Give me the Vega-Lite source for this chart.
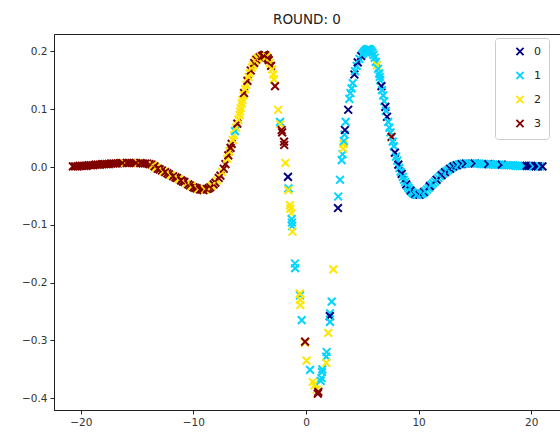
{
"$schema": "https://vega.github.io/schema/vega-lite/v6.json",
"width": 506, "height": 376,
"autosize": "none",
"padding": {"left": 54, "top": 34, "right": 0, "bottom": 26},
"title": {"text": "ROUND: 0", "fontSize": 13.5, "fontWeight": "normal", "font": "DejaVu Sans", "color": "#222", "offset": 8, "anchor": "middle"},
"data": {"values": [
{"x":-20.7,"y":0.001,"c":"3"},{"x":-20.5,"y":0.001,"c":"3"},{"x":-20.3,"y":0.001,"c":"3"},{"x":-20.1,"y":0.002,"c":"3"},{"x":-19.9,"y":0.002,"c":"3"},{"x":-19.7,"y":0.002,"c":"3"},{"x":-19.5,"y":0.002,"c":"3"},{"x":-19.3,"y":0.003,"c":"3"},{"x":-19.1,"y":0.003,"c":"3"},{"x":-18.9,"y":0.003,"c":"3"},{"x":-18.7,"y":0.004,"c":"3"},{"x":-18.5,"y":0.004,"c":"3"},{"x":-18.3,"y":0.004,"c":"3"},{"x":-18.1,"y":0.005,"c":"3"},{"x":-17.9,"y":0.005,"c":"3"},{"x":-17.7,"y":0.005,"c":"3"},{"x":-17.5,"y":0.005,"c":"3"},{"x":-17.3,"y":0.006,"c":"3"},{"x":-17.1,"y":0.006,"c":"3"},{"x":-16.9,"y":0.006,"c":"3"},{"x":-16.7,"y":0.006,"c":"3"},{"x":-16.5,"y":0.007,"c":"3"},{"x":-16.1,"y":0.007,"c":"2"},{"x":-16.3,"y":0.007,"c":"3"},{"x":-15.9,"y":0.007,"c":"3"},{"x":-15.7,"y":0.007,"c":"3"},{"x":-15.5,"y":0.007,"c":"3"},{"x":-15.3,"y":0.007,"c":"3"},{"x":-14.9,"y":0.007,"c":"2"},{"x":-15.1,"y":0.007,"c":"3"},{"x":-14.7,"y":0.007,"c":"3"},{"x":-14.5,"y":0.006,"c":"3"},{"x":-14.3,"y":0.006,"c":"3"},{"x":-14.1,"y":0.006,"c":"3"},{"x":-13.9,"y":0.005,"c":"3"},{"x":-13.7,"y":0.004,"c":"3"},
{"x":-13.6,"y":0.003,"c":"2"},{"x":-13.45,"y":0.001,"c":"3"},{"x":-13.3,"y":-0.001,"c":"2"},{"x":-13.15,"y":-0.003,"c":"3"},{"x":-13.0,"y":-0.004,"c":"3"},{"x":-12.8,"y":-0.006,"c":"3"},{"x":-12.65,"y":-0.008,"c":"2"},{"x":-12.5,"y":-0.009,"c":"3"},{"x":-12.3,"y":-0.011,"c":"3"},{"x":-12.15,"y":-0.013,"c":"3"},{"x":-12.0,"y":-0.014,"c":"2"},{"x":-11.8,"y":-0.016,"c":"3"},{"x":-11.6,"y":-0.018,"c":"3"},{"x":-11.45,"y":-0.019,"c":"3"},{"x":-11.3,"y":-0.021,"c":"2"},{"x":-11.1,"y":-0.023,"c":"3"},{"x":-10.95,"y":-0.025,"c":"3"},{"x":-10.8,"y":-0.026,"c":"3"},{"x":-10.6,"y":-0.029,"c":"2"},{"x":-10.45,"y":-0.030,"c":"3"},{"x":-10.3,"y":-0.032,"c":"3"},{"x":-10.15,"y":-0.033,"c":"2"},{"x":-10.0,"y":-0.035,"c":"3"},{"x":-9.85,"y":-0.036,"c":"3"},{"x":-9.7,"y":-0.037,"c":"3"},{"x":-9.55,"y":-0.038,"c":"2"},{"x":-9.4,"y":-0.039,"c":"3"},{"x":-9.25,"y":-0.039,"c":"3"},{"x":-9.1,"y":-0.040,"c":"3"},{"x":-8.95,"y":-0.039,"c":"2"},{"x":-8.8,"y":-0.038,"c":"3"},{"x":-8.65,"y":-0.037,"c":"3"},{"x":-8.5,"y":-0.035,"c":"3"},{"x":-8.35,"y":-0.033,"c":"2"},{"x":-8.2,"y":-0.030,"c":"3"},{"x":-8.05,"y":-0.027,"c":"3"},{"x":-7.9,"y":-0.023,"c":"2"},{"x":-7.75,"y":-0.019,"c":"3"},{"x":-7.6,"y":-0.015,"c":"3"},{"x":-7.45,"y":-0.009,"c":"2"},{"x":-7.3,"y":-0.003,"c":"3"},{"x":-7.15,"y":0.005,"c":"3"},{"x":-7.0,"y":0.014,"c":"2"},
{"x":-6.9,"y":0.020,"c":"3"},{"x":-6.8,"y":0.027,"c":"2"},{"x":-6.7,"y":0.033,"c":"3"},{"x":-6.6,"y":0.040,"c":"3"},{"x":-6.5,"y":0.047,"c":"2"},{"x":-6.4,"y":0.055,"c":"2"},{"x":-6.3,"y":0.062,"c":"1"},{"x":-6.2,"y":0.068,"c":"2"},{"x":-6.1,"y":0.075,"c":"3"},{"x":-6.0,"y":0.082,"c":"2"},{"x":-5.9,"y":0.090,"c":"2"},{"x":-5.85,"y":0.096,"c":"2"},{"x":-5.8,"y":0.102,"c":"2"},{"x":-5.7,"y":0.110,"c":"2"},{"x":-5.65,"y":0.116,"c":"2"},{"x":-5.55,"y":0.124,"c":"2"},{"x":-5.5,"y":0.128,"c":"3"},{"x":-5.4,"y":0.135,"c":"2"},{"x":-5.3,"y":0.142,"c":"2"},{"x":-5.2,"y":0.149,"c":"3"},{"x":-5.1,"y":0.156,"c":"2"},{"x":-5.0,"y":0.162,"c":"2"},{"x":-4.9,"y":0.167,"c":"3"},{"x":-4.8,"y":0.172,"c":"2"},{"x":-4.7,"y":0.176,"c":"2"},{"x":-4.6,"y":0.180,"c":"3"},{"x":-4.5,"y":0.184,"c":"2"},{"x":-4.4,"y":0.186,"c":"3"},{"x":-4.3,"y":0.188,"c":"2"},{"x":-4.2,"y":0.189,"c":"2"},{"x":-4.1,"y":0.190,"c":"3"},{"x":-4.0,"y":0.191,"c":"2"},{"x":-3.9,"y":0.192,"c":"3"},{"x":-3.8,"y":0.193,"c":"3"},{"x":-3.7,"y":0.194,"c":"3"},{"x":-3.6,"y":0.193,"c":"3"},{"x":-3.5,"y":0.191,"c":"2"},{"x":-3.4,"y":0.188,"c":"3"},{"x":-3.3,"y":0.185,"c":"3"},{"x":-3.2,"y":0.180,"c":"2"},{"x":-3.1,"y":0.175,"c":"3"},{"x":-3.0,"y":0.169,"c":"2"},{"x":-2.9,"y":0.160,"c":"2"},{"x":-2.85,"y":0.152,"c":"2"},{"x":-2.75,"y":0.140,"c":"3"},
{"x":-2.47,"y":0.099,"c":"2"},{"x":-2.3,"y":0.078,"c":"1"},{"x":-2.28,"y":0.074,"c":"2"},{"x":-2.16,"y":0.064,"c":"3"},{"x":-2.12,"y":0.060,"c":"3"},{"x":-1.95,"y":0.044,"c":"3"},{"x":-1.93,"y":0.038,"c":"3"},{"x":-1.83,"y":0.007,"c":"2"},{"x":-1.6,"y":-0.017,"c":"0"},{"x":-1.55,"y":-0.037,"c":"1"},{"x":-1.57,"y":-0.040,"c":"2"},{"x":-1.42,"y":-0.066,"c":"2"},{"x":-1.40,"y":-0.072,"c":"2"},{"x":-1.3,"y":-0.080,"c":"2"},{"x":-1.27,"y":-0.090,"c":"1"},{"x":-1.25,"y":-0.096,"c":"1"},{"x":-1.24,"y":-0.102,"c":"1"},{"x":-1.2,"y":-0.112,"c":"2"},{"x":-0.98,"y":-0.167,"c":"1"},{"x":-0.96,"y":-0.175,"c":"1"},{"x":-0.53,"y":-0.222,"c":"1"},{"x":-0.55,"y":-0.219,"c":"2"},{"x":-0.5,"y":-0.230,"c":"2"},{"x":-0.5,"y":-0.239,"c":"2"},{"x":-0.38,"y":-0.265,"c":"1"},{"x":-0.09,"y":-0.304,"c":"2"},{"x":-0.08,"y":-0.302,"c":"3"},{"x":0.05,"y":-0.335,"c":"2"},{"x":0.36,"y":-0.351,"c":"1"},{"x":0.6,"y":-0.372,"c":"2"},{"x":0.75,"y":-0.378,"c":"2"},{"x":0.85,"y":-0.375,"c":"2"},{"x":0.95,"y":-0.385,"c":"2"},{"x":1.05,"y":-0.392,"c":"3"},{"x":1.1,"y":-0.389,"c":"3"},{"x":1.3,"y":-0.370,"c":"1"},{"x":1.38,"y":-0.365,"c":"1"},{"x":1.42,"y":-0.355,"c":"1"},{"x":1.45,"y":-0.350,"c":"1"},{"x":1.84,"y":-0.320,"c":"1"},{"x":1.80,"y":-0.328,"c":"1"},{"x":1.80,"y":-0.339,"c":"2"},{"x":1.98,"y":-0.287,"c":"2"},{"x":2.13,"y":-0.253,"c":"1"},{"x":2.12,"y":-0.258,"c":"0"},{"x":2.13,"y":-0.268,"c":"1"},{"x":2.28,"y":-0.233,"c":"1"},{"x":2.43,"y":-0.177,"c":"2"},{"x":2.84,"y":-0.071,"c":"0"},{"x":2.86,"y":-0.051,"c":"1"},{"x":3.02,"y":-0.022,"c":"1"},{"x":3.17,"y":0.012,"c":"1"},
{"x":3.25,"y":0.022,"c":"1"},{"x":3.3,"y":0.032,"c":"2"},{"x":3.33,"y":0.040,"c":"2"},{"x":3.36,"y":0.045,"c":"1"},{"x":3.42,"y":0.056,"c":"1"},{"x":3.46,"y":0.064,"c":"0"},{"x":3.52,"y":0.078,"c":"1"},{"x":3.75,"y":0.099,"c":"0"},{"x":3.85,"y":0.118,"c":"1"},{"x":3.95,"y":0.128,"c":"1"},{"x":4.05,"y":0.136,"c":"1"},{"x":4.15,"y":0.145,"c":"1"},{"x":4.3,"y":0.160,"c":"0"},{"x":4.35,"y":0.166,"c":"1"},{"x":4.5,"y":0.175,"c":"1"},{"x":4.6,"y":0.181,"c":"0"},{"x":4.75,"y":0.187,"c":"1"},{"x":4.9,"y":0.192,"c":"0"},{"x":5.0,"y":0.195,"c":"1"},{"x":5.1,"y":0.198,"c":"1"},{"x":5.2,"y":0.200,"c":"1"},{"x":5.3,"y":0.202,"c":"1"},{"x":5.4,"y":0.203,"c":"1"},{"x":5.5,"y":0.204,"c":"1"},{"x":5.6,"y":0.204,"c":"1"},{"x":5.7,"y":0.203,"c":"1"},{"x":5.8,"y":0.201,"c":"1"},{"x":5.9,"y":0.198,"c":"1"},{"x":6.0,"y":0.194,"c":"1"},{"x":6.1,"y":0.189,"c":"1"},{"x":6.2,"y":0.182,"c":"1"},{"x":6.3,"y":0.176,"c":"2"},{"x":6.4,"y":0.170,"c":"1"},{"x":6.5,"y":0.162,"c":"1"},{"x":6.55,"y":0.156,"c":"1"},{"x":6.6,"y":0.150,"c":"1"},{"x":6.7,"y":0.140,"c":"0"},{"x":6.75,"y":0.133,"c":"1"},{"x":6.85,"y":0.124,"c":"1"},{"x":6.95,"y":0.114,"c":"1"},{"x":7.05,"y":0.104,"c":"0"},{"x":7.1,"y":0.097,"c":"1"},{"x":7.2,"y":0.087,"c":"0"},{"x":7.3,"y":0.078,"c":"1"},{"x":7.4,"y":0.068,"c":"1"},{"x":7.5,"y":0.060,"c":"1"},{"x":7.6,"y":0.052,"c":"3"},{"x":7.7,"y":0.044,"c":"1"},{"x":7.8,"y":0.036,"c":"1"},{"x":7.9,"y":0.025,"c":"0"},{"x":8.0,"y":0.018,"c":"1"},{"x":8.1,"y":0.011,"c":"1"},{"x":8.2,"y":0.004,"c":"0"},{"x":8.3,"y":-0.002,"c":"1"},{"x":8.4,"y":-0.008,"c":"1"},{"x":8.5,"y":-0.012,"c":"0"},{"x":8.6,"y":-0.017,"c":"1"},{"x":8.7,"y":-0.022,"c":"1"},{"x":8.8,"y":-0.026,"c":"1"},{"x":8.9,"y":-0.030,"c":"0"},{"x":9.0,"y":-0.033,"c":"1"},{"x":9.1,"y":-0.036,"c":"1"},{"x":9.2,"y":-0.039,"c":"1"},{"x":9.3,"y":-0.041,"c":"0"},{"x":9.4,"y":-0.043,"c":"1"},{"x":9.5,"y":-0.045,"c":"1"},{"x":9.6,"y":-0.046,"c":"1"},{"x":9.7,"y":-0.047,"c":"0"},{"x":9.8,"y":-0.048,"c":"1"},{"x":9.9,"y":-0.048,"c":"1"},{"x":10.0,"y":-0.048,"c":"1"},{"x":10.1,"y":-0.048,"c":"0"},{"x":10.2,"y":-0.047,"c":"1"},{"x":10.3,"y":-0.046,"c":"1"},{"x":10.4,"y":-0.045,"c":"1"},{"x":10.5,"y":-0.043,"c":"0"},{"x":10.6,"y":-0.042,"c":"1"},{"x":10.75,"y":-0.039,"c":"1"},{"x":10.9,"y":-0.036,"c":"1"},{"x":11.0,"y":-0.033,"c":"0"},{"x":11.15,"y":-0.031,"c":"1"},{"x":11.3,"y":-0.028,"c":"1"},{"x":11.45,"y":-0.025,"c":"1"},{"x":11.6,"y":-0.022,"c":"0"},{"x":11.75,"y":-0.019,"c":"1"},{"x":11.9,"y":-0.016,"c":"1"},{"x":12.05,"y":-0.014,"c":"0"},{"x":12.2,"y":-0.011,"c":"1"},{"x":12.35,"y":-0.009,"c":"0"},{"x":12.5,"y":-0.007,"c":"1"},{"x":12.65,"y":-0.005,"c":"1"},{"x":12.8,"y":-0.003,"c":"0"},{"x":12.95,"y":-0.001,"c":"1"},{"x":13.1,"y":0.001,"c":"0"},{"x":13.25,"y":0.002,"c":"1"},{"x":13.4,"y":0.003,"c":"0"},{"x":13.55,"y":0.004,"c":"1"},{"x":13.7,"y":0.005,"c":"1"},{"x":13.85,"y":0.005,"c":"0"},{"x":14.0,"y":0.006,"c":"1"},{"x":14.2,"y":0.006,"c":"0"},{"x":14.4,"y":0.006,"c":"1"},{"x":14.6,"y":0.006,"c":"1"},{"x":14.8,"y":0.006,"c":"1"},{"x":15.0,"y":0.006,"c":"0"},{"x":15.2,"y":0.006,"c":"1"},{"x":15.4,"y":0.006,"c":"1"},{"x":15.6,"y":0.005,"c":"1"},{"x":15.8,"y":0.005,"c":"1"},{"x":16.0,"y":0.005,"c":"1"},{"x":16.2,"y":0.005,"c":"0"},{"x":16.4,"y":0.005,"c":"1"},{"x":16.6,"y":0.004,"c":"1"},{"x":16.8,"y":0.004,"c":"1"},{"x":17.0,"y":0.004,"c":"1"},{"x":17.2,"y":0.004,"c":"1"},{"x":17.4,"y":0.004,"c":"0"},{"x":17.6,"y":0.003,"c":"1"},{"x":17.8,"y":0.003,"c":"1"},{"x":18.0,"y":0.003,"c":"1"},{"x":18.2,"y":0.003,"c":"1"},{"x":18.4,"y":0.003,"c":"1"},{"x":18.6,"y":0.002,"c":"1"},{"x":18.8,"y":0.002,"c":"1"},{"x":19.0,"y":0.002,"c":"1"},{"x":19.2,"y":0.002,"c":"1"},{"x":19.4,"y":0.002,"c":"1"},{"x":19.6,"y":0.002,"c":"0"},{"x":19.8,"y":0.002,"c":"0"},{"x":20.0,"y":0.002,"c":"0"},{"x":20.2,"y":0.001,"c":"1"},{"x":20.4,"y":0.001,"c":"0"},{"x":20.6,"y":0.001,"c":"0"},{"x":20.8,"y":0.001,"c":"1"},{"x":21.0,"y":0.001,"c":"0"}
]},
"mark": {"type": "point", "shape": "M-1,-1L1,1M-1,1L1,-1", "filled": false, "strokeWidth": 2, "size": 60, "opacity": 1},
"encoding": {
  "x": {"field": "x", "type": "quantitative", "scale": {"domain": [-22.38, 22.56], "nice": false, "zero": false}, "axis": {"values": [-20, -10, 0, 10, 20], "title": null}},
  "y": {"field": "y", "type": "quantitative", "scale": {"domain": [-0.4204, 0.2301], "nice": false, "zero": false}, "axis": {"values": [-0.4, -0.3, -0.2, -0.1, 0, 0.1, 0.2], "format": ".1f", "title": null}},
  "color": {"field": "c", "type": "nominal", "scale": {"domain": ["0", "1", "2", "3"], "range": ["#000080", "#00d4ff", "#ffe600", "#800000"]},
    "legend": {"orient": "none", "legendX": 441, "legendY": 4, "title": null, "symbolType": "M-1,-1L1,1M-1,1L1,-1", "symbolSize": 50, "symbolStrokeWidth": 1.8, "symbolFillColor": "transparent", "symbolOpacity": 1, "labelFontSize": 11, "labelFont": "DejaVu Sans", "labelColor": "#222", "padding": 8, "rowPadding": 9, "symbolOffset": 11.5, "labelOffset": 8.5, "strokeColor": "#cccccc", "fillColor": "white", "cornerRadius": 3, "labelExpr": "datum.label + '      '"}}
},
"config": {
  "view": {"stroke": "#222", "strokeWidth": 1},
  "axis": {"grid": false, "domainColor": "#222", "tickColor": "#222", "tickSize": 4, "labelFont": "DejaVu Sans", "labelFontSize": 10.5, "labelColor": "#333", "labelPadding": 3}
}
}
